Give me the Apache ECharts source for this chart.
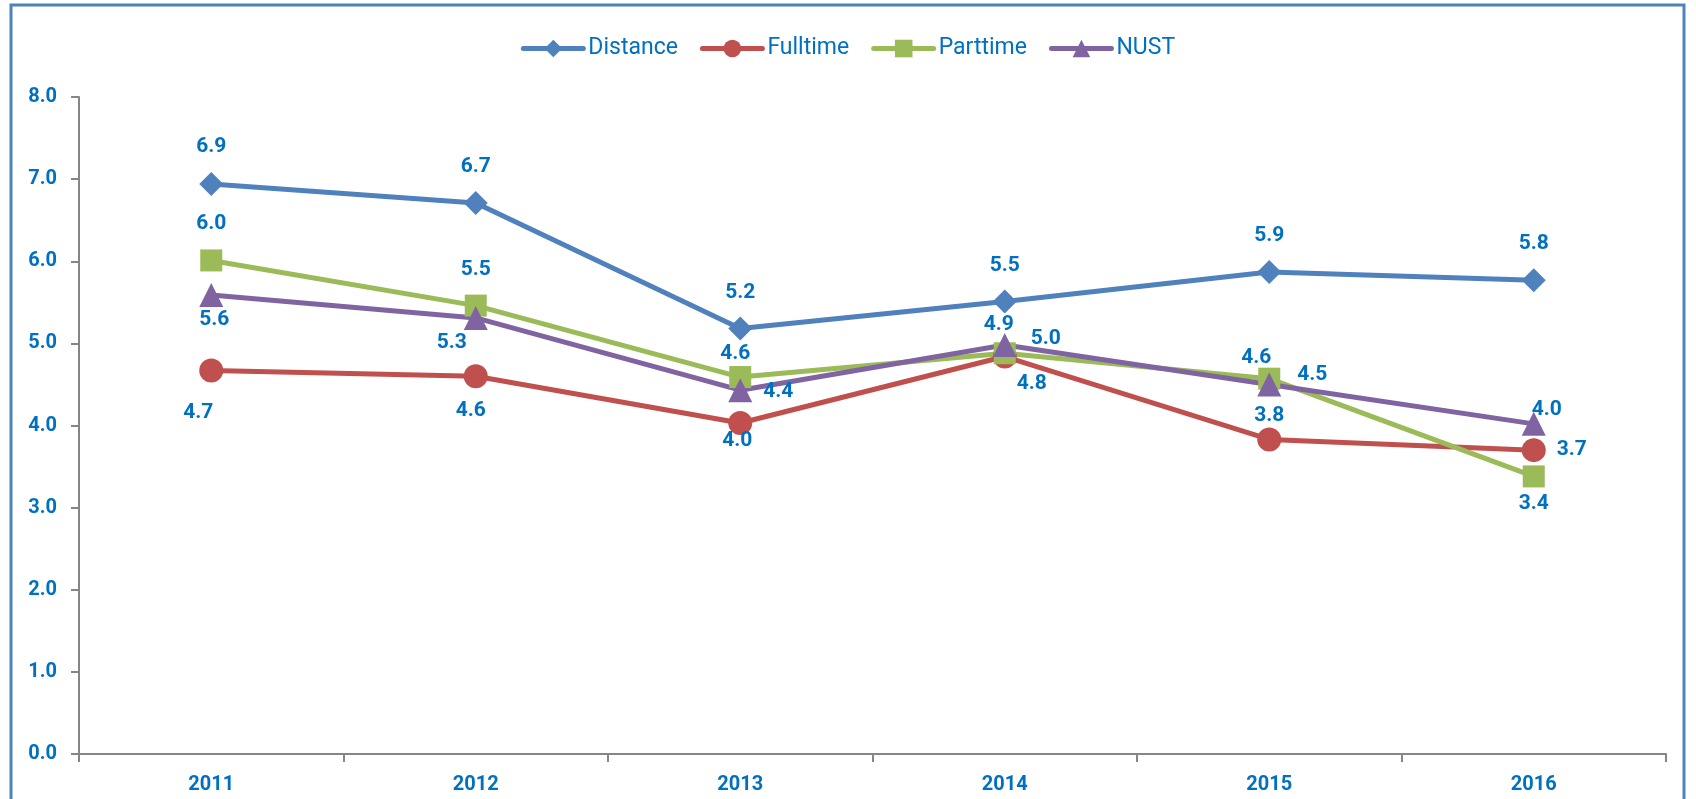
<!DOCTYPE html>
<html>
<head>
<meta charset="utf-8">
<script src="https://cdn.jsdelivr.net/npm/echarts@6/dist/echarts.min.js"></script>
<style>
  html, body { margin: 0; padding: 0; background: #fff; }
  #chart { width: 1696px; height: 799px; }
</style>
</head>
<body>
<div id="chart"></div>
<script>
const years = ['2011', '2012', '2013', '2014', '2015', '2016']
const distance = [6.94, 6.71, 5.18, 5.51, 5.87, 5.77]
const fulltime = [4.67, 4.60, 4.03, 4.84, 3.83, 3.70]
const parttime = [6.01, 5.46, 4.59, 4.88, 4.57, 3.38]
const nust = [5.59, 5.31, 4.43, 4.98, 4.50, 4.02]
const yTicks = [0, 1, 2, 3, 4, 5, 6, 7, 8]

// label offsets from each point (style only)
const labelOffsets = {
  Distance: [[0, -37], [0, -36], [0, -36], [0, -36], [0, -36], [0, -36]],
  Fulltime: [[-13, 42], [-5, 35], [-3, 18], [27, 27], [0, -24], [38, 0]],
  Parttime: [[0, -37], [0, -36], [-5, -23], [-6, -28], [-13, -21], [0, 27]],
  NUST: [[3, 25], [-24, 25], [38, 2], [41, -6], [43, -10], [13, -14]],
}

const FONT = "Roboto, sans-serif"
const LABEL_BLUE = '#0070C0'

function makeSeries(name, values, color, symbol, size) {
  return {
    name,
    type: 'line',
    data: values.map((v, i) => ({
      value: v,
      label: { offset: labelOffsets[name][i] },
    })),
    symbol,
    symbolSize: size,
    lineStyle: { color, width: 5 },
    itemStyle: { color },
    label: {
      show: true,
      position: 'inside',
      color: LABEL_BLUE,
      fontFamily: FONT,
      fontWeight: 'bold',
      fontSize: 21,
      formatter: p => p.value.toFixed(1),
    },
    z: 2,
  }
}

const chart = echarts.init(document.getElementById('chart'))

chart.setOption({
  animation: false,
  textStyle: { fontFamily: FONT },
  graphic: [{
    type: 'rect',
    shape: { x: 11, y: 5, width: 1673, height: 820 },
    style: { fill: 'none', stroke: '#4F81BD', lineWidth: 3 },
    silent: true,
  }],
  legend: {
    top: 32,
    left: 'center',
    itemWidth: 60,
    itemHeight: 22,
    itemGap: 22,
    lineStyle: { width: 5, cap: 'round' },
    textStyle: { color: LABEL_BLUE, fontSize: 23, fontFamily: FONT },
  },
  grid: { left: 79, right: 30, top: 97, bottom: 45 },
  xAxis: {
    type: 'category',
    data: years,
    boundaryGap: true,
    axisLine: { lineStyle: { color: '#868686', width: 2 } },
    axisTick: { show: true, length: 8, lineStyle: { color: '#868686', width: 2 } },
    axisLabel: { color: LABEL_BLUE, fontWeight: 'bold', fontSize: 20, margin: 21 },
  },
  yAxis: {
    type: 'value',
    min: yTicks[0],
    max: yTicks[yTicks.length - 1],
    interval: 1,
    axisLine: { show: true, lineStyle: { color: '#868686', width: 2 } },
    axisTick: { show: true, length: 8, lineStyle: { color: '#868686', width: 2 } },
    splitLine: { show: false },
    axisLabel: {
      color: LABEL_BLUE,
      fontWeight: 'bold',
      fontSize: 20,
      margin: 22,
      formatter: v => v.toFixed(1),
    },
  },
  series: [
    makeSeries('Distance', distance, '#4F81BD', 'diamond', 24),
    makeSeries('Fulltime', fulltime, '#C0504D', 'circle', 24),
    makeSeries('Parttime', parttime, '#9BBB59', 'rect', 22),
    makeSeries('NUST', nust, '#8064A2', 'triangle', 24),
  ],
})
</script>
</body>
</html>
